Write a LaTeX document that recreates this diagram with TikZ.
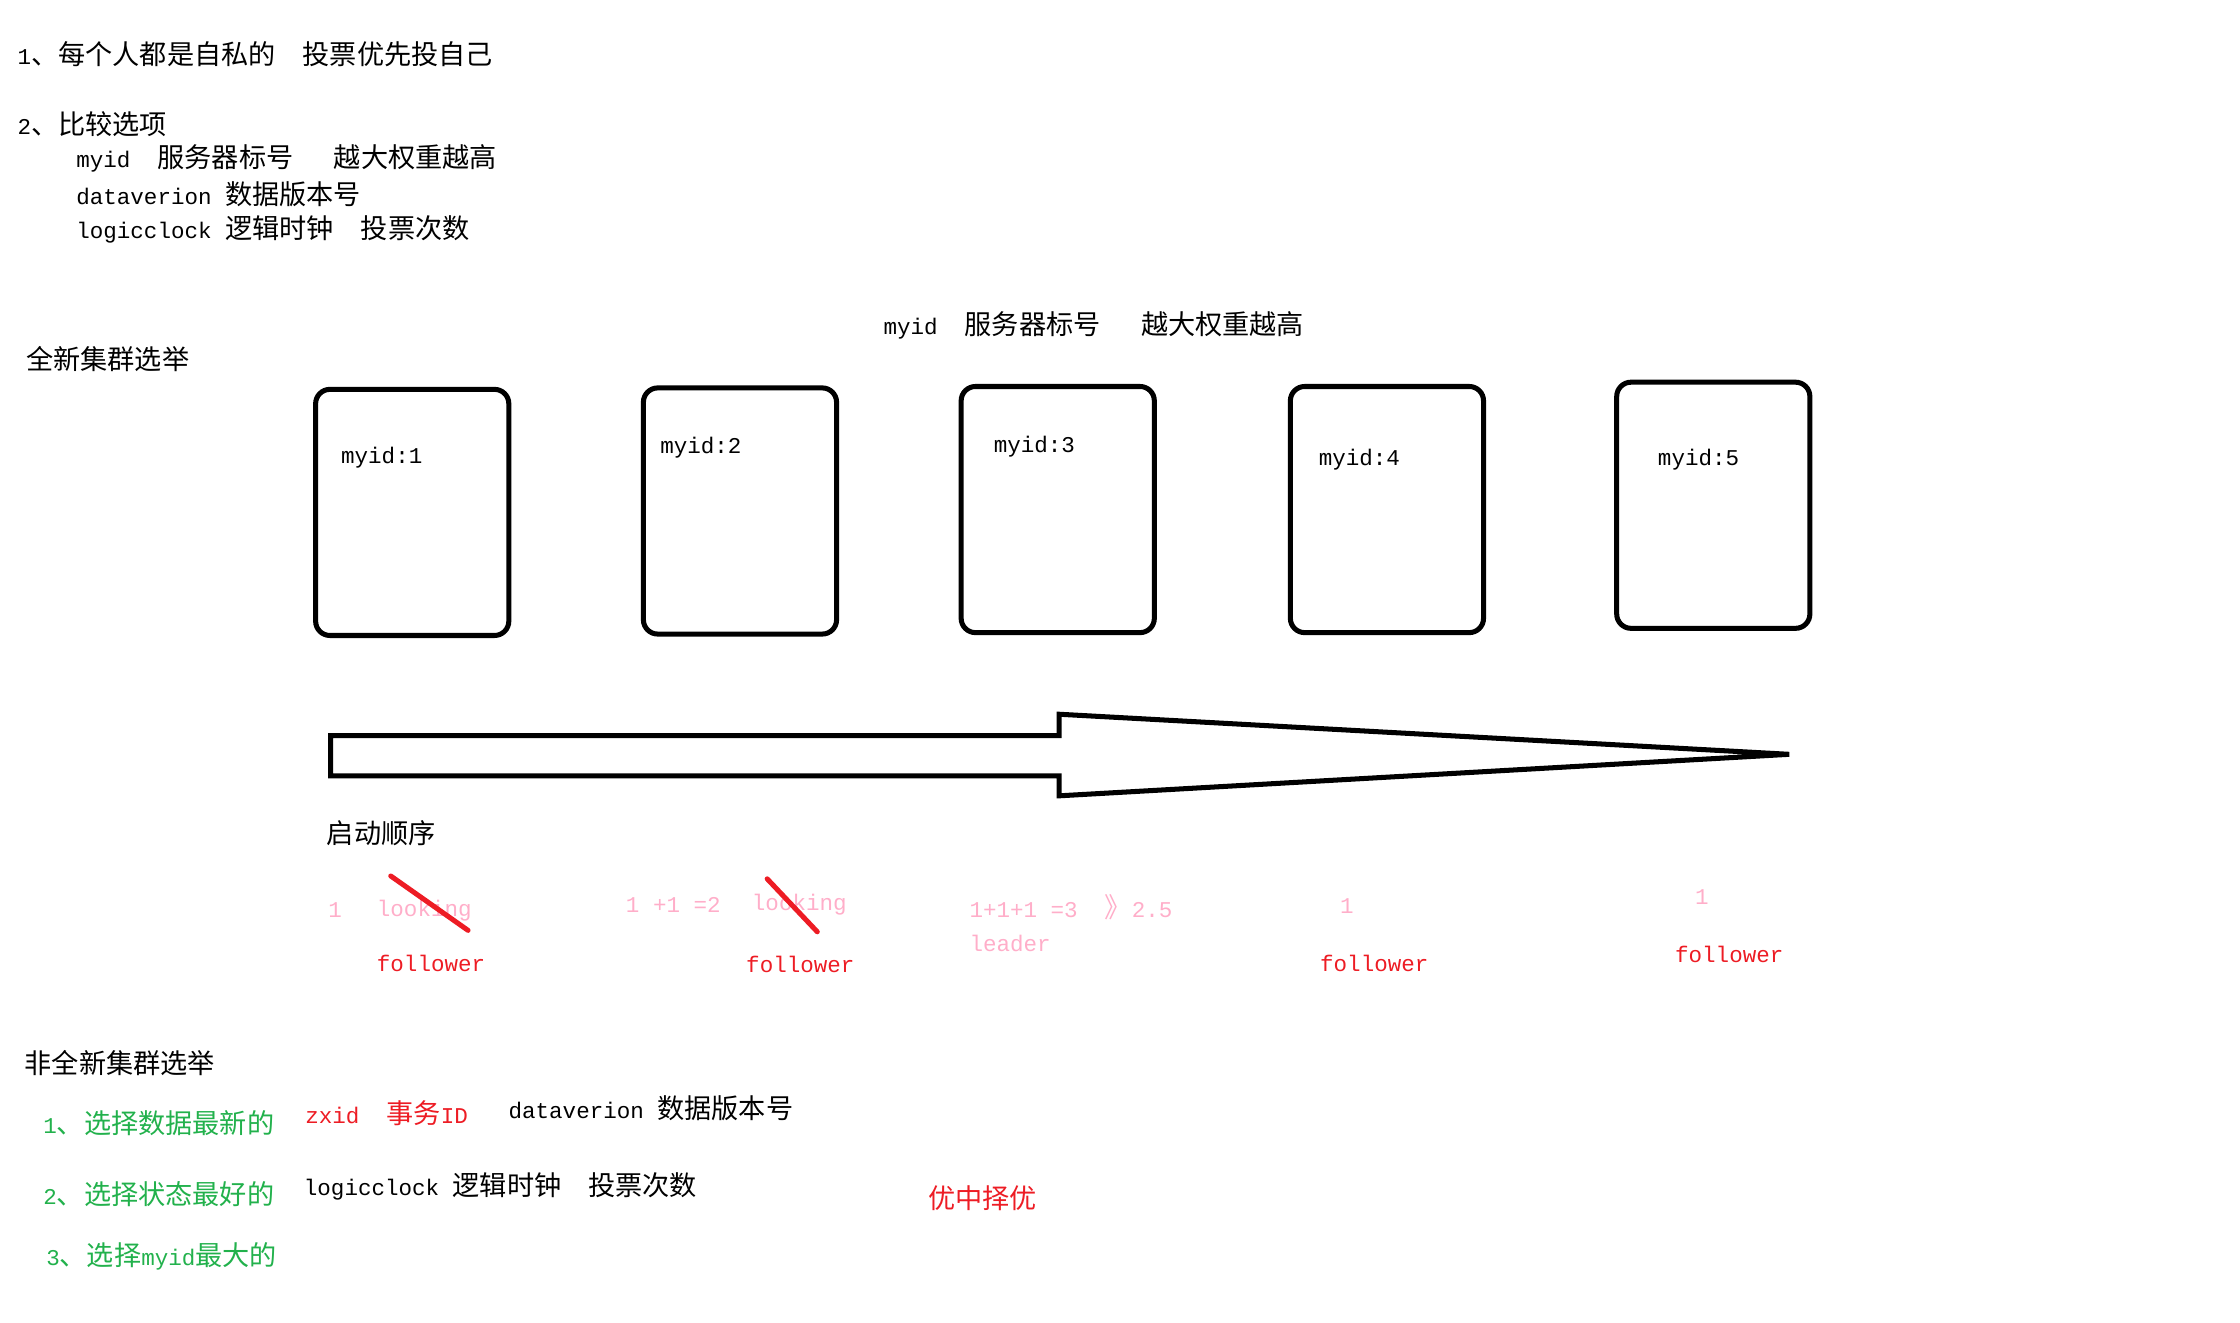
\documentclass[tikz,border=0pt]{standalone}
\usepackage{fontspec}
\setmainfont{Liberation Mono}[Scale=0.83]
\newfontfamily\cjk{Noto Sans CJK SC}
\newcommand{\zh}[1]{{\cjk #1}}
\definecolor{paintred}{RGB}{237,28,36}
\definecolor{paintpink}{RGB}{255,174,201}
\definecolor{paintgreen}{RGB}{34,177,76}

\begin{document}
\begin{tikzpicture}[x=0.02cm,y=-0.02cm,font=\fontsize{10.8pt}{13pt}\selectfont,
    txt/.style={anchor=west,inner sep=0pt},
    server/.style={draw,line width=2pt,rounded corners=0.2cm,minimum width=2.7cm,minimum height=3.44cm},
    strike/.style={draw=paintred,line width=2pt,line cap=round}]

      \useasboundingbox (0,0) rectangle (1565,924);

      \begin{scope}[every node/.style={txt}]
        \node (rule1)    at (12,38)   {1\zh{、每个人都是自私的}~~\zh{投票优先投自己}};
        \node (rule2)    at (12,87)   {2\zh{、比较选项}};
        \node (opt1)     at (53,111)  {myid~~\zh{服务器标号}~~~\zh{越大权重越高}};
        \node (opt2)     at (53,136)  {dataverion~\zh{数据版本号}};
        \node (opt3)     at (53,160)  {logicclock~\zh{逻辑时钟}~~\zh{投票次数}};
        \node (weight)   at (617,227) {myid~~\zh{服务器标号}~~~\zh{越大权重越高}};
        \node (fresh)    at (18,251)  {\zh{全新集群选举}};
        \node (order)    at (228,582) {\zh{启动顺序}};
        \node (nonfresh) at (17,743)  {\zh{非全新集群选举}};
      \end{scope}

      \begin{scope}[every node/.style={server}]
        \node (s1) at (288,358)  {};
        \node (s2) at (517,357)  {};
        \node (s3) at (739,356)  {};
        \node (s4) at (969,356)  {};
        \node (s5) at (1197,353) {};
      \end{scope}

      \begin{scope}[every node/.style={txt}]
        \node (id1) at (238,320)  {myid:1};
        \node (id2) at (461,313)  {myid:2};
        \node (id3) at (694,312)  {myid:3};
        \node (id4) at (921,321)  {myid:4};
        \node (id5) at (1158,321) {myid:5};
      \end{scope}

      \draw[line width=2pt] (231,514) -- (740,514) -- (740,499) -- (1250,527)
        -- (740,556) -- (740,542) -- (231,542) -- cycle;

      \begin{scope}[every node/.style={txt,text=paintpink}]
        \node (v1)    at (229,636)  {1};
        \node (look1) at (263,636)  {looking};
        \node (v2)    at (437,632)  {1~+1~=2};
        \node (look2) at (525,632)  {looking};
        \node (v3)    at (677,634)  {1+1+1~=3~~\zh{》}2.5};
        \node (lead)  at (677,659)  {leader};
        \node (v4)    at (936,633)  {1};
        \node (v5)    at (1184,627) {1};
      \end{scope}

      \draw[strike] (273,612) -- (327,650);
      \draw[strike] (536,614) -- (571,651);

      \begin{scope}[every node/.style={txt,text=paintred}]
        \node (f1)   at (263,673)  {follower};
        \node (f2)   at (521,674)  {follower};
        \node (f4)   at (922,673)  {follower};
        \node (f5)   at (1170,667) {follower};
        \node (zxid) at (213,778)  {zxid~~\zh{事务}ID};
        \node (best) at (648,837)  {\zh{优中择优}};
      \end{scope}

      \begin{scope}[every node/.style={txt,text=paintgreen}]
        \node (c1) at (30,785) {1\zh{、选择数据最新的}};
        \node (c2) at (30,834) {2\zh{、选择状态最好的}};
        \node (c3) at (32,878) {3\zh{、选择}myid\zh{最大的}};
      \end{scope}

      \begin{scope}[every node/.style={txt}]
        \node (dv) at (355,774) {dataverion~\zh{数据版本号}};
        \node (lc) at (212,829) {logicclock~\zh{逻辑时钟}~~\zh{投票次数}};
      \end{scope}

    \end{tikzpicture}
\end{document}
